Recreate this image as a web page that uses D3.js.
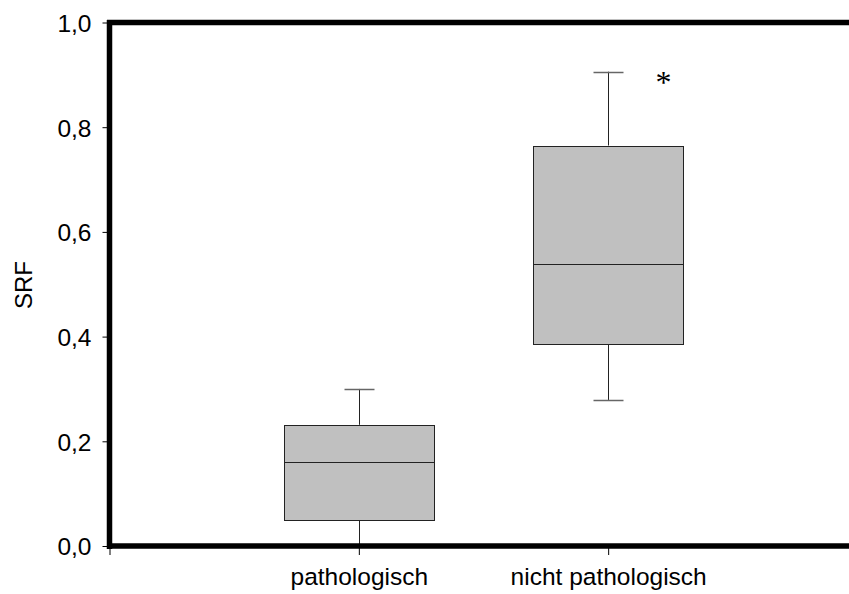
<!DOCTYPE html>
<html><head><meta charset="utf-8">
<script src="https://cdn.jsdelivr.net/npm/d3@7"></script>
<style>
html,body{margin:0;padding:0;background:#fff;}
svg{display:block;}
text{font-family:Arial,"Liberation Sans",sans-serif;fill:#000;}
</style></head>
<body>
<script>
const categories = ["pathologisch", "nicht pathologisch"];
const whiskerLow = [0.0, 0.279];
const q1 = [0.050, 0.385];
const median = [0.160, 0.538];
const q3 = [0.2315, 0.765];
const whiskerHigh = [0.300, 0.906];
const outliers = [[], [0.893]];
const yTicks = [0.0, 0.2, 0.4, 0.6, 0.8, 1.0];
const yLabel = "SRF";

const W = 849, H = 594;
const svg = d3.select("body").append("svg").attr("width", W).attr("height", H);

const x = d3.scaleLinear().domain([0, 3]).range([109.5, 857.5]);
const y = d3.scaleLinear().domain([0, 1]).range([546, 22.5]);

const boxW = 150, capW = 30;
const g = svg.append("g");

categories.forEach((c, i) => {
  const cx = Math.round(x(i + 1)) + 0.5;
  g.append("line").attr("x1", cx).attr("x2", cx).attr("y1", y(q3[i])).attr("y2", y(whiskerHigh[i]))
    .attr("stroke", "#222").attr("stroke-width", 1);
  g.append("line").attr("x1", cx).attr("x2", cx).attr("y1", y(q1[i])).attr("y2", y(whiskerLow[i]))
    .attr("stroke", "#222").attr("stroke-width", 1);
  g.append("line").attr("x1", cx - capW / 2).attr("x2", cx + capW / 2)
    .attr("y1", Math.round(y(whiskerHigh[i])) + 0.5).attr("y2", Math.round(y(whiskerHigh[i])) + 0.5)
    .attr("stroke", "#666").attr("stroke-width", 1.5);
  g.append("line").attr("x1", cx - capW / 2).attr("x2", cx + capW / 2)
    .attr("y1", Math.round(y(whiskerLow[i])) + 0.5).attr("y2", Math.round(y(whiskerLow[i])) + 0.5)
    .attr("stroke", "#666").attr("stroke-width", 1.5);
  g.append("rect").attr("x", cx - boxW / 2).attr("width", boxW)
    .attr("y", Math.round(y(q3[i])) + 0.5).attr("height", Math.round(y(q1[i])) - Math.round(y(q3[i])))
    .attr("fill", "#c0c0c0").attr("stroke", "#222").attr("stroke-width", 1);
  g.append("line").attr("x1", cx - boxW / 2).attr("x2", cx + boxW / 2)
    .attr("y1", Math.round(y(median[i])) + 0.5).attr("y2", Math.round(y(median[i])) + 0.5)
    .attr("stroke", "#222").attr("stroke-width", 1);
  outliers[i].forEach(v => {
    g.append("text").attr("x", cx + 55).attr("y", y(v) + 14)
      .attr("text-anchor", "middle")
      .style("font-family", "'Liberation Serif','Times New Roman',serif")
      .style("font-size", "32px").text("*");
  });
});

// Y axis
const yAxis = d3.axisLeft(y).tickValues(yTicks).tickSize(7).tickPadding(11)
  .tickFormat(d => d3.format(".1f")(d).replace(".", ","));
const ya = svg.append("g").attr("transform", "translate(109.5,0)").call(yAxis);
ya.select(".domain").remove();
ya.selectAll(".tick line").attr("stroke", "#000").attr("stroke-width", 1);
ya.selectAll(".tick text").style("font-size", "24.5px").style("font-family", "Arial,'Liberation Sans',sans-serif").attr("dy", "0.36em");

// X axis
const xAxis = d3.axisBottom(x).tickValues([0, 1, 2]).tickSize(9).tickPadding(13)
  .tickFormat(d => d === 0 ? "" : categories[d - 1]);
const xa = svg.append("g").attr("transform", "translate(0,546)").call(xAxis);
xa.select(".domain").remove();
xa.selectAll(".tick line").attr("stroke", "#000").attr("stroke-width", 1);
xa.selectAll(".tick text").style("font-size", "24.5px").style("font-family", "Arial,'Liberation Sans',sans-serif");

// frame lines (thick)
svg.append("line").attr("x1", 107).attr("x2", W).attr("y1", y(1)).attr("y2", y(1)).attr("stroke", "#000").attr("stroke-width", 5.5);
svg.append("line").attr("x1", 109.5).attr("x2", 109.5).attr("y1", 20).attr("y2", 549).attr("stroke", "#000").attr("stroke-width", 5.5);
svg.append("line").attr("x1", 107).attr("x2", W).attr("y1", y(0)).attr("y2", y(0)).attr("stroke", "#000").attr("stroke-width", 5.5);

// Y label
svg.append("text").attr("transform", "translate(32,285) rotate(-90)")
  .attr("text-anchor", "middle").style("font-size", "24px").text(yLabel);
</script>
</body></html>
